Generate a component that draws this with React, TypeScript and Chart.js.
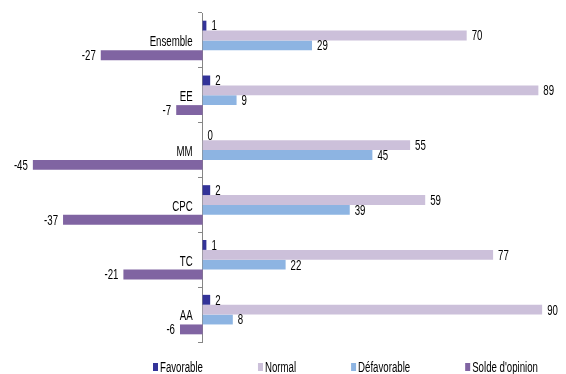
import React, { useEffect, useRef } from "react";
import { Chart, registerables } from "chart.js";

Chart.register(...registerables);

// Opinion survey by sector
const categories = ["Ensemble", "EE", "MM", "CPC", "TC", "AA"];
const favorable = [1, 2, 0, 2, 1, 2];
const normal = [70, 89, 55, 59, 77, 90];
const defavorable = [29, 9, 45, 39, 22, 8];
const solde = [-27, -7, -45, -37, -21, -6];

const seriesNames = ["Favorable", "Normal", "Défavorable", "Solde d'opinion"];
const seriesColors = ["#333399", "#CCC0DA", "#8DB4E2", "#8064A2"];

const FONT = "14px 'Liberation Sans', Arial, sans-serif";
const SQUEEZE = 0.69; // horizontal compression for a narrow-looking face

function narrowText(ctx: CanvasRenderingContext2D, text: string, x: number, y: number, align: CanvasTextAlign) {
  ctx.save();
  ctx.translate(x, y);
  ctx.scale(SQUEEZE, 1);
  ctx.textAlign = align;
  ctx.fillText(text, 0, 0);
  ctx.restore();
}

// Category names to the left of the zero axis, and each bar's value past its end
const textLayer = {
  id: "textLayer",
  afterDatasetsDraw(chart: any) {
    const ctx = chart.ctx as CanvasRenderingContext2D;
    ctx.save();
    ctx.font = FONT;
    ctx.fillStyle = "#000";
    ctx.textBaseline = "middle";
    const zeroX = chart.scales.x.getPixelForValue(0);
    categories.forEach((c, i) => {
      narrowText(ctx, c, zeroX - 10, chart.scales.y.getPixelForValue(i) + 2, "right");
    });
    chart.data.datasets.forEach((ds: any, i: number) => {
      const meta = chart.getDatasetMeta(i);
      meta.data.forEach((bar: any, j: number) => {
        const v = ds.data[j];
        if (v < 0) narrowText(ctx, String(v), bar.x - 5, bar.y + 1, "right");
        else narrowText(ctx, String(v), bar.x + 5, bar.y + 1, "left");
      });
    });
    ctx.restore();
  },
};

// Legend row along the bottom
const bottomLegend = {
  id: "bottomLegend",
  afterDraw(chart: any) {
    const ctx = chart.ctx as CanvasRenderingContext2D;
    ctx.save();
    ctx.font = FONT;
    ctx.textBaseline = "middle";
    const y = 367;
    let x = 153;
    seriesNames.forEach((name, i) => {
      ctx.fillStyle = seriesColors[i];
      ctx.fillRect(x, y - 4, 5, 8);
      ctx.fillStyle = "#000";
      narrowText(ctx, name, x + 7, y + 1, "left");
      x += 7 + ctx.measureText(name).width * SQUEEZE + 55;
    });
    ctx.restore();
  },
};

export default function App() {
  const canvasRef = useRef<HTMLCanvasElement | null>(null);

  useEffect(() => {
    if (!canvasRef.current) return;
    const values = [favorable, normal, defavorable, solde];
    const chart = new Chart(canvasRef.current, {
      type: "bar",
      data: {
        labels: categories,
        datasets: values.map((d, i) => ({
          label: seriesNames[i],
          data: d,
          backgroundColor: seriesColors[i],
          borderWidth: 0,
          categoryPercentage: 0.72,
          barPercentage: 1,
        })),
      },
      options: {
        indexAxis: "y",
        responsive: false,
        animation: false,
        layout: { padding: { top: 13, bottom: 32, left: 14, right: 5 } },
        plugins: {
          legend: { display: false },
          tooltip: { enabled: false },
        },
        scales: {
          x: {
            display: false,
            min: -50,
            max: 95,
          },
          y: {
            position: { x: 0 } as any,
            grid: {
              display: true,
              drawOnChartArea: false,
              drawTicks: true,
              tickLength: 4,
              color: "#868686",
            },
            border: { display: true, color: "#868686", width: 1 },
            ticks: {
              color: "rgba(0,0,0,0)",
              font: { size: 12 },
            },
          },
        },
      },
      plugins: [textLayer, bottomLegend],
    });
    return () => chart.destroy();
  }, []);

  return (
    <div style={{ position: "fixed", left: 0, top: 0, width: 566, height: 374, background: "#fff" }}>
      <canvas ref={canvasRef} width={566} height={374} style={{ display: "block" }} />
    </div>
  );
}
